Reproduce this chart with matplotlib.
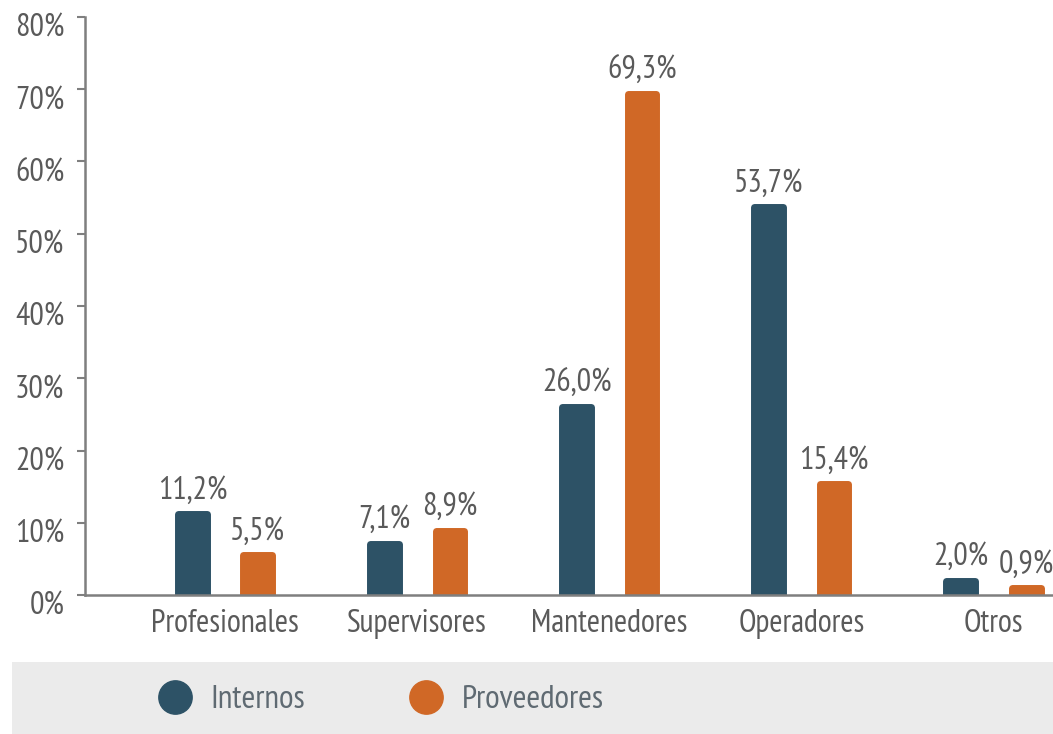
import matplotlib.pyplot as plt
import matplotlib.transforms as mtransforms
import numpy as np
from matplotlib.lines import Line2D
from matplotlib.patches import Rectangle

categories = ["Profesionales", "Supervisores", "Mantenedores", "Operadores", "Otros"]
internos = [11.2, 7.1, 26.0, 53.7, 2.0]
proveedores = [5.5, 8.9, 69.3, 15.4, 0.9]
series_names = ["Internos", "Proveedores"]
y_ticks = [0, 10, 20, 30, 40, 50, 60, 70, 80]

c_int = "#2d5266"
c_prov = "#d06826"
c_text = "#5a5a5a"
c_axis = "#7f7f7f"

plt.rcParams["font.family"] = ["PT Sans Narrow", "DejaVu Sans"]

fig = plt.figure(figsize=(10.53, 7.34), dpi=100)
ax = fig.add_axes([85 / 1053, 139 / 734, 1 - 85 / 1053, 578 / 734])

x = np.arange(len(categories))
off = 0.17
w = 0.15


def fmt(v):
    return f"{v:.1f}".replace(".", ",") + "%"


for vals, color, sign in [(internos, c_int, -1), (proveedores, c_prov, 1)]:
    bars = ax.bar(x + sign * off, vals, width=w, color=color, edgecolor=color,
                  linewidth=5, joinstyle="round", zorder=2)
    for b, v in zip(bars, vals):
        ax.annotate(fmt(v), (b.get_x() + b.get_width() / 2, v),
                    xytext=(0, 6), textcoords="offset points",
                    ha="center", va="bottom", fontsize=23, color=c_text)

ax.set_xlim(-0.73, 4.31)
ax.set_ylim(0, 80)
ax.set_yticks(y_ticks)
ax.set_yticklabels([f"{t}%" for t in y_ticks])
ax.set_xticks(x)
ax.set_xticklabels(categories)
ax.tick_params(axis="y", length=6, width=1.5, color=c_axis, labelsize=23,
               labelcolor=c_text, pad=9)
ax.tick_params(axis="x", length=0, labelsize=23, labelcolor=c_text, pad=10)

# y labels sit a little below their ticks
shift = mtransforms.ScaledTranslation(0, -6 / 72, fig.dpi_scale_trans)
for lbl in ax.get_yticklabels():
    lbl.set_transform(lbl.get_transform() + shift)

for side in ["top", "right"]:
    ax.spines[side].set_visible(False)
for side in ["left", "bottom"]:
    ax.spines[side].set_color(c_axis)
    ax.spines[side].set_linewidth(1.8)
ax.spines["bottom"].set_zorder(3)

# grey legend strip
fig.patches.append(Rectangle((12 / 1053, 0), 1, 72 / 734, transform=fig.transFigure,
                             facecolor="#ebebeb", edgecolor="none", zorder=0))
handles = [Line2D([], [], marker="o", linestyle="none", markersize=24,
                  markerfacecolor=c, markeredgecolor=c)
           for c in (c_int, c_prov)]
fig.legend(handles, series_names, loc="center left",
           bbox_to_anchor=(155 / 1053, 34 / 734), ncol=2, frameon=False,
           fontsize=24, labelcolor="#5f6a72", handletextpad=0.45,
           columnspacing=3.05, handlelength=1.2, borderpad=0, borderaxespad=0)

fig.savefig("out.png", dpi=100)
